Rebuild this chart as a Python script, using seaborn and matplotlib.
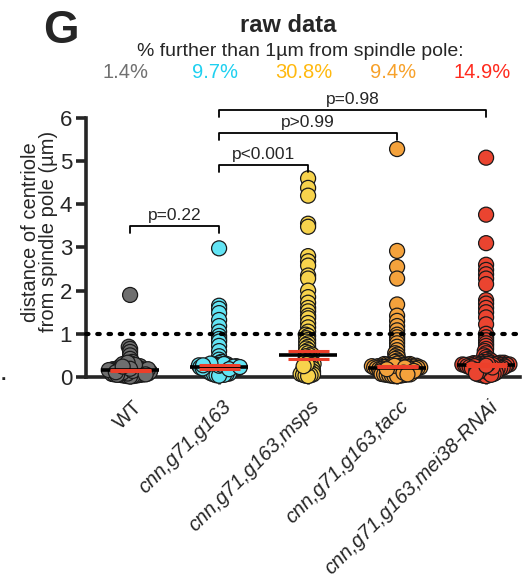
import numpy as np
import pandas as pd
import matplotlib.pyplot as plt
import matplotlib.transforms as mtransforms
import seaborn as sns

# группы и цвета
groups = ['WT', 'cnn,g71,g163', 'cnn,g71,g163,msps', 'cnn,g71,g163,tacc', 'cnn,g71,g163,mei38-RNAi']
colors = ['#6f6f6f', '#62e4f4', '#f7d34c', '#f4a23c', '#ea4430']
pct_labels = ['1.4%', '9.7%', '30.8%', '9.4%', '14.9%']
pct_colors = ['#707070', '#1fd0f0', '#ffb90f', '#f7a12a', '#ff2b1e']

# расстояния (мкм)
wt = [1.9, 0.7, 0.65, 0.58, 0.5, 0.42, 0.35, 0.32, 0.3, 0.28, 0.27, 0.25, 0.24, 0.22,
      0.21, 0.2, 0.19, 0.18, 0.18, 0.17, 0.17, 0.16, 0.16, 0.15, 0.15, 0.15, 0.14, 0.14,
      0.13, 0.13, 0.12, 0.12, 0.11, 0.11, 0.1, 0.1, 0.09, 0.09, 0.08, 0.08, 0.07, 0.07,
      0.06, 0.06, 0.05, 0.05, 0.04, 0.04, 0.03, 0.03, 0.02, 0.02, 0.01, 0.2, 0.25, 0.3,
      0.12, 0.18, 0.22, 0.08, 0.1, 0.14, 0.16, 0.05, 0.28, 0.33, 0.11, 0.19, 0.24, 0.06]
cnn = [2.98, 1.65, 1.58, 1.48, 1.32, 1.18, 1.05, 0.95, 0.88, 0.82, 0.72, 0.6, 0.48, 0.4,
       0.35, 0.32, 0.3, 0.29, 0.28, 0.27, 0.26, 0.25, 0.25, 0.24, 0.24, 0.23, 0.23, 0.22,
       0.22, 0.22, 0.21, 0.21, 0.2, 0.2, 0.19, 0.19, 0.18, 0.18, 0.17, 0.17, 0.16, 0.16,
       0.15, 0.15, 0.14, 0.14, 0.13, 0.13, 0.12, 0.12, 0.11, 0.1, 0.1, 0.09, 0.08, 0.08,
       0.07, 0.06, 0.05, 0.05, 0.04, 0.03, 0.26, 0.28, 0.3, 0.22, 0.24, 0.2, 0.18, 0.31,
       0.27, 0.23]
msps = [4.6, 4.38, 4.2, 3.55, 3.48, 2.8, 2.68, 2.58, 2.35, 2.28, 2.0, 1.85, 1.72, 1.6,
        1.52, 1.42, 1.36, 1.25, 1.15, 1.05,
        0.98, 0.95, 0.9, 0.86, 0.82, 0.78, 0.74, 0.7, 0.66, 0.62, 0.58, 0.55, 0.52,
        0.5, 0.48, 0.45, 0.42, 0.4, 0.38, 0.35, 0.33, 0.3, 0.28, 0.26, 0.24, 0.22, 0.2,
        0.19, 0.18, 0.16, 0.15, 0.14, 0.12, 0.11, 0.1, 0.09, 0.08, 0.07, 0.06, 0.05,
        0.04, 0.03, 0.02, 0.3, 0.25]
tacc = [5.28, 2.92, 2.55, 2.28, 1.68, 1.42, 1.3, 1.18, 1.08,
        0.98, 0.92, 0.85, 0.78, 0.7, 0.62, 0.55, 0.52, 0.48, 0.45, 0.42, 0.38, 0.35, 0.33, 0.31,
        0.3, 0.3, 0.29, 0.29, 0.28, 0.28, 0.27, 0.27, 0.26, 0.26, 0.25, 0.25, 0.25, 0.24,
        0.24, 0.24, 0.23, 0.23, 0.23, 0.22, 0.22, 0.22, 0.21, 0.21, 0.21, 0.2, 0.2, 0.2,
        0.19, 0.19, 0.19, 0.18, 0.18, 0.18, 0.17, 0.17, 0.16, 0.16, 0.15, 0.15, 0.14, 0.14,
        0.13, 0.13, 0.12, 0.12, 0.11, 0.11, 0.1, 0.1, 0.09, 0.09, 0.08, 0.08, 0.07, 0.07,
        0.06, 0.06, 0.05, 0.05, 0.04, 0.04, 0.03, 0.03, 0.02, 0.02, 0.26, 0.22, 0.18, 0.14,
        0.1, 0.06]
mei = [5.08, 3.76, 3.1, 2.6, 2.48, 2.38, 2.28, 2.15, 1.78, 1.7, 1.6, 1.5, 1.38, 1.22,
       1.0, 0.92, 0.85, 0.78, 0.72, 0.65, 0.6, 0.55, 0.5, 0.46, 0.42, 0.4, 0.38, 0.36,
       0.35, 0.34, 0.33, 0.33, 0.32, 0.32, 0.31, 0.31, 0.3, 0.3, 0.3, 0.29, 0.29, 0.29,
       0.28, 0.28, 0.28, 0.27, 0.27, 0.27, 0.26, 0.26, 0.25, 0.25, 0.24, 0.24, 0.23, 0.23,
       0.22, 0.22, 0.21, 0.21, 0.2, 0.2, 0.19, 0.19, 0.18, 0.18, 0.17, 0.16, 0.15, 0.14,
       0.13, 0.12, 0.11, 0.1, 0.09, 0.08, 0.07, 0.06, 0.05, 0.04, 0.03, 0.02, 0.25, 0.2,
       0.15, 0.1, 0.05, 0.28, 0.22, 0.18, 0.12, 0.08, 0.3, 0.26]

# красные линии (доверительный интервал медианы)
ci_low = [0.14, 0.19, 0.42, 0.22, 0.26]
ci_high = [0.16, 0.27, 0.6, 0.26, 0.3]

# сравнения
cmp_left = [0, 1, 1, 1]
cmp_right = [1, 2, 3, 4]
cmp_text = ['p=0.22', 'p<0.001', 'p>0.99', 'p=0.98']

values = [wt, cnn, msps, tacc, mei]
df = pd.DataFrame({
    'group': np.concatenate([[g] * len(v) for g, v in zip(groups, values)]),
    'dist': np.concatenate(values),
})

sns.set_style('ticks')
plt.rcParams['font.family'] = ['Liberation Sans', 'DejaVu Sans']

fig = plt.figure(figsize=(5.22, 5.84), dpi=100)
ax = fig.add_axes([0.165, 0.3545, 0.831, 0.4435])

sns.swarmplot(data=df, x='group', y='dist', hue='group', order=groups, hue_order=groups,
              palette=colors, size=1.8, edgecolor='#1a1a1a', linewidth=0,
              legend=False, ax=ax, clip_on=False, warn_thresh=1)

ax.set_xlim(-0.494, 4.38)
ax.set_ylim(0, 6)

# раскладка роя считается с мелкими точками, потом точки увеличиваем
fig.canvas.draw()
for coll in ax.collections:
    coll.__dict__.pop('draw', None)
    coll.set_sizes([10.8 ** 2])
    coll.set_linewidth(0.9)
    coll.set_edgecolor('#1a1a1a')
    coll.set_clip_on(False)

# медиана и красные линии
for i, v in enumerate(values):
    m = np.median(v)
    ax.hlines(m, i - 0.33, i + 0.33, color='black', lw=2.6, zorder=5)
    ax.hlines([ci_low[i], ci_high[i]], i - 0.23, i + 0.23, color='#ec3f2a', lw=2.2, zorder=6)

ax.axhline(1, color='black', ls=(0, (0.6, 2.1)), lw=3, zorder=7, clip_on=False,
           dash_capstyle='round')

# скобки с p-значениями
bracket_y = [3.5, 4.91, 5.65, 6.18]
for l, r, t, y in zip(cmp_left, cmp_right, cmp_text, bracket_y):
    ax.plot([l, l, r, r], [y - 0.16, y, y, y - 0.16], color='black', lw=1.3,
            clip_on=False, zorder=8)
    ax.text((l + r) / 2, y + 0.07, t, ha='center', va='bottom', fontsize=12.5, clip_on=False)

sns.despine(ax=ax)
for s in ['left', 'bottom']:
    ax.spines[s].set_linewidth(2.6)
ax.tick_params(axis='y', length=7, width=2.6, labelsize=16, pad=3)
ax.tick_params(axis='x', length=5, width=2, labelsize=14.5, pad=3)
ax.set_yticks(range(0, 7))
ax.set_xlabel('')
ax.set_ylabel('distance of centriole\nfrom spindle pole (µm)', fontsize=14.5, linespacing=0.95)
ax.yaxis.set_label_coords(-0.064, 0.56)
shift = mtransforms.ScaledTranslation(1.5 / 72, -6.5 / 72, fig.dpi_scale_trans)
for k, lbl in enumerate(ax.get_xticklabels()):
    lbl.set_rotation(45)
    lbl.set_ha('right')
    lbl.set_va('top')
    lbl.set_rotation_mode('anchor')
    lbl.set_transform(lbl.get_transform() + shift)
    if k > 0:
        lbl.set_fontstyle('italic')

# заголовки
W, H = 522, 584
fig.text(61 / W, 1 - 31 / H, 'G', fontsize=33, fontweight='bold', ha='center', va='center')
fig.text(288 / W, 1 - 26 / H, 'raw data', fontsize=17, fontweight='bold', ha='center', va='center')
fig.text(300 / W, 1 - 52 / H, '% further than 1µm from spindle pole:', fontsize=14,
         ha='center', va='center')
for i, (t, c) in enumerate(zip(pct_labels, pct_colors)):
    xd = ax.transData.transform((i, 0))[0]
    fig.text(xd / W - 0.008, 1 - 73 / H, t, color=c, fontsize=14.5, ha='center', va='center')
fig.text(3 / W, 1 - 376 / H, '.', fontsize=14, fontweight='bold', ha='center', va='center')

fig.savefig('out.png', dpi=100)
